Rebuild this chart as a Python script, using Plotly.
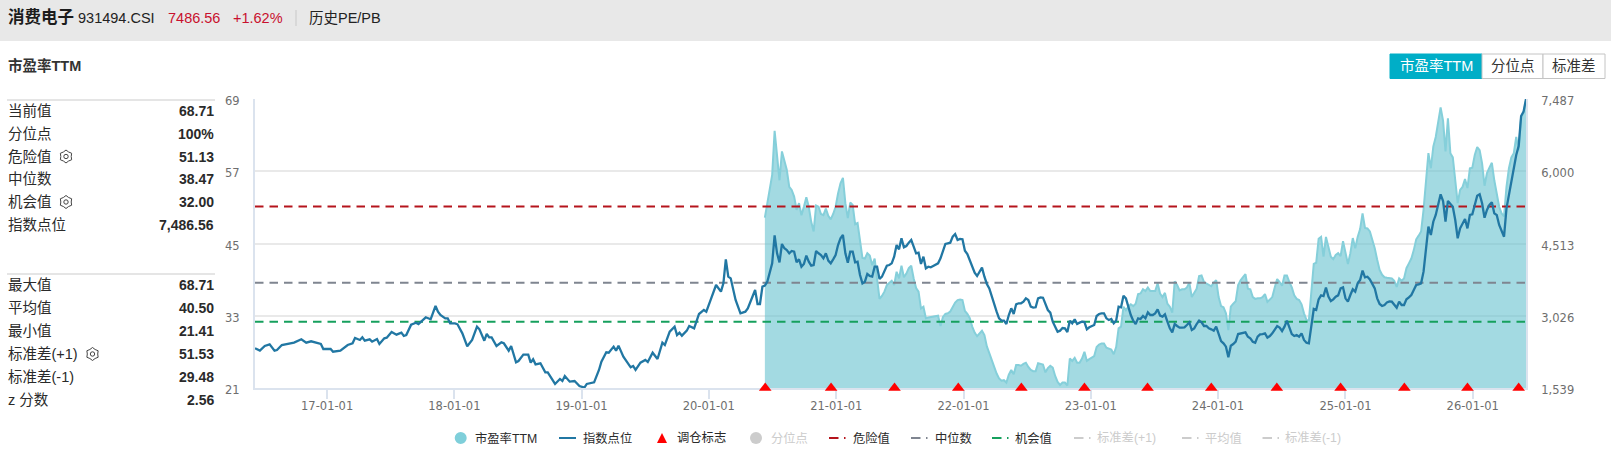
import math
import pandas as pd
import plotly.graph_objects as go

W, H = 1611, 462

# weekly calendar of the series
FIRST_WEEK = pd.Timestamp("2016-06-08")

index_early_weeks = [0,2,4,6,8,9,11,13,16,19,21,23,27,28,31,32,35,38,40,41,43,44,45,47,48,50,51,53,54,56,58,60,61,62,63,64,66,67,70,72,73,74,75,76,78,79,80,82,83,85,87,89,91,92,94,95,96,97,99,101,102,104,105,107,108,110,112,113,114,115,117,119,120,123,125,126,127,129,131,133,135,136,139,141,142,144,145,146,147,148,149,151,153,154,155,156,158,160,161,163,165,167,168,170,172,173,174,175,177,178,180,182,184,185,187,189,191,192,193,194,195,197,199,201,202,203,205,206,207,208,209]
index_early_values = [2356,2308,2404,2438,2308,2321,2424,2445,2472,2541,2472,2500,2445,2342,2342,2287,2308,2424,2459,2568,2527,2582,2513,2541,2493,2548,2445,2561,2575,2692,2637,2678,2610,2630,2733,2843,2884,2856,2994,2953,3090,3227,3110,3042,2973,2973,2870,2870,2850,2664,2397,2527,2802,2747,2513,2651,2582,2582,2404,2479,2459,2308,2404,2068,2095,2226,2226,2061,2129,2026,2047,1862,1862,1622,1725,1683,1786,1670,1683,1580,1546,1622,1656,1910,2081,2273,2266,2335,2390,2308,2411,2184,2047,1965,1992,1910,2061,2116,2074,2266,2136,2472,2424,2699,2802,2630,2678,2616,2719,2815,2767,3062,3145,3110,3385,3659,3522,3693,4187,3831,3796,3350,3076,3110,3179,3316,3556,3268,3268,3625,3645]

# index level, one value a week from week 210 on
index_recent_values = [
    3727,3933,4105,4681,4311,4125,4503,4414,4379,4311,4359,4345,4125,4187,4036,4091,4263,4139,4057,4070,
    4359,4311,4276,4208,4311,4160,4105,4187,4276,4482,4619,4688,4311,4118,4345,4345,4125,4139,3865,3693,
    3727,3885,3844,3830,4036,4036,3782,3830,3933,4057,4070,4105,4242,4482,4393,4619,4434,4461,4530,4585,
    4448,4311,4324,4091,4242,4002,4036,4023,4050,4084,4105,4208,4379,4503,4516,4530,4654,4708,4585,4606,
    4599,4365,4297,4173,4023,3913,3844,3920,4016,3830,3680,3590,3419,3261,3110,2973,2925,2925,2856,3041,
    3179,3062,3261,3282,3282,3316,3385,3350,3213,3192,3199,3385,3405,3398,3281,3144,3089,2904,2801,2698,
    2719,2774,2767,2691,2925,2870,2952,2856,2884,2904,2897,2746,2788,2815,2836,3021,3062,3076,3076,2973,
    2938,2959,2870,2925,3213,3199,3439,3384,3213,3041,2925,2856,2973,2959,3021,2973,3096,3041,3041,3076,
    3158,3028,3007,3055,2904,2767,2685,2856,2815,2781,2781,2788,2836,2890,2733,2767,2856,2925,2890,2815,
    2815,2767,2746,2719,2801,2630,2506,2458,2390,2170,2410,2444,2492,2650,2664,2664,2685,2595,2561,2492,
    2472,2595,2643,2650,2664,2575,2609,2664,2746,2815,2781,2712,2801,2925,2788,2650,2609,2630,2595,2664,
    2527,2472,2458,2801,3165,3144,3364,3446,3432,3604,3419,3330,3364,3419,3446,3590,3611,3384,3316,3453,
    3570,3522,3693,3762,3954,3817,3830,3775,3693,3590,3384,3268,3227,3247,3302,3323,3316,3261,3192,3316,
    3247,3247,3364,3405,3453,3556,3659,3673,3693,3933,4448,4859,4688,4962,5100,5305,5525,5388,4962,5388,
    5340,5271,4997,4619,4825,4914,5017,4825,5100,5113,5340,5497,5525,5340,5044,5202,5305,5360,5134,5100,
    4894,4757,4653,5237,5511,5785,6128,6334,6519,7137,7226,7486.56]

# PE (TTM), one value a week from week 209 on
pe_first_week = 209
pe_values = [
    49.3,51.7,54.4,56.4,63.7,60.0,55.5,60.3,58.6,57.2,54.4,53.9,52.8,50.6,51.7,49.7,51.1,52.7,51.1,48.6,
    47.0,51.3,51.1,49.9,49.7,50.8,49.6,49.0,49.9,51.1,53.3,55.0,55.9,51.7,49.2,51.8,51.4,48.2,48.4,45.3,
    42.6,42.5,43.4,43.0,41.4,42.5,39.5,35.8,36.3,37.0,38.1,38.4,38.8,38.1,40.3,39.2,41.3,39.4,40.0,40.9,
    41.3,39.2,37.6,37.0,34.2,34.5,32.6,32.7,32.8,32.8,33.0,33.0,31.3,32.8,33.3,33.4,33.7,34.6,35.2,35.6,
    35.7,35.6,33.8,33.3,32.6,31.2,30.2,29.6,30.1,30.5,29.8,27.9,26.8,25.6,24.5,23.4,22.6,22.2,22.3,21.9,
    23.2,24.0,23.3,24.8,24.8,24.7,25.0,25.2,24.5,24.0,23.8,23.8,25.1,25.0,24.9,23.6,24.3,24.7,24.4,23.0,
    22.0,21.5,21.9,21.9,21.41,25.9,25.5,26.0,25.2,25.2,25.9,27.0,25.5,25.8,26.1,26.3,27.8,28.2,28.4,28.4,
    27.7,27.5,27.4,26.6,27.8,30.9,31.2,34.5,33.9,34.5,34.9,34.6,35.0,36.6,36.7,37.4,37.1,37.7,37.1,37.1,
    37.1,38.4,36.7,36.1,36.8,35.0,34.5,33.5,38.7,38.1,37.2,37.4,37.4,37.7,38.5,36.1,36.7,37.5,39.6,39.7,
    38.6,38.4,38.2,37.9,38.5,38.9,36.1,34.6,34.4,33.4,30.6,34.5,35.0,35.4,38.1,38.9,39.4,39.9,37.5,37.4,
    36.1,35.8,35.9,35.9,36.1,36.6,35.3,35.7,36.1,37.7,39.1,38.6,38.0,39.7,39.7,38.6,37.7,36.4,35.8,35.6,
    34.9,33.4,32.3,32.2,36.7,41.6,41.8,45.8,46.1,42.8,46.1,44.4,42.8,42.4,43.1,43.4,42.9,45.4,43.4,41.6,
    43.4,45.9,44.2,46.1,47.4,50.0,47.6,47.5,47.0,45.7,44.2,42.3,40.6,39.8,39.4,39.3,39.2,39.2,38.8,37.8,
    39.2,38.8,39.2,40.9,41.7,42.5,43.9,45.7,46.3,47.0,50.6,55.5,60.0,57.5,61.1,62.7,65.5,67.6,65.4,60.3,
    65.8,60.0,59.3,55.5,51.7,53.9,54.4,55.7,54.2,57.5,57.6,59.7,61.0,60.5,58.3,54.6,56.7,57.6,58.4,55.5,
    52.9,51.1,50.0,49.5,54.4,57.5,59.3,60.0,62.7,60.5,66.0,66.7,68.71]

rebalance_dates = ["2020-06-11","2020-12-17","2021-06-17","2021-12-17","2022-06-16","2022-12-14",
                   "2023-06-13","2023-12-13","2024-06-18","2024-12-18","2025-06-19","2025-12-17","2026-05-13"]

danger_level = 51.13
median_level = 38.47
chance_level = 32.00

pe_ticks = [21, 33, 45, 57, 69]
index_ticks = [1539, 3026, 4513, 6000, 7487]

stats_top_labels = ["当前值", "分位点", "危险值", "中位数", "机会值", "指数点位"]
stats_top_values = ["68.71", "100%", "51.13", "38.47", "32.00", "7,486.56"]
stats_bottom_labels = ["最大值", "平均值", "最小值", "标准差(+1)", "标准差(-1)", "z 分数"]
stats_bottom_values = ["68.71", "40.50", "21.41", "51.53", "29.48", "2.56"]

LATIN_CJK = "Liberation Sans, Noto Sans CJK SC"
TICK_FONT = dict(family="DejaVu Sans", size=11.5, color="#6e6e6e")
AXIS_COLOR = "#dbe3ee"
GRID_COLOR = "#e9e9e9"
RED = "#b5141c"
GREY = "#7f8590"
GREEN = "#16a05d"
INK = "#2a2a2a"


def week_date(week):
    return FIRST_WEEK + pd.Timedelta(days=7 * week)


index_weeks = index_early_weeks + list(range(210, 210 + len(index_recent_values)))
index_values = index_early_values + index_recent_values
index_dates = [week_date(w) for w in index_weeks]
pe_dates = [week_date(pe_first_week + i) for i in range(len(pe_values))]
x_start, x_end = week_date(0), week_date(521)

fig = go.Figure()
fig.add_trace(go.Scatter(x=pe_dates, y=pe_values, mode="lines", fill="tozeroy",
                         fillcolor="rgba(98,192,205,0.59)",
                         line=dict(color="rgb(133,207,218)", width=2),
                         name="市盈率TTM", hoverinfo="skip"))
fig.add_trace(go.Scatter(x=index_dates, y=index_values, mode="lines", yaxis="y2",
                         line=dict(color="#2177a3", width=2.3), name="指数点位"))
for level, colour, label in [(danger_level, RED, "危险值"),
                             (median_level, GREY, "中位数"),
                             (chance_level, GREEN, "机会值")]:
    fig.add_trace(go.Scatter(x=[x_start, x_end], y=[level, level], mode="lines",
                             line=dict(color=colour, width=2, dash="8.5px,6px"), name=label))
fig.add_trace(go.Scatter(x=rebalance_dates, y=[21] * len(rebalance_dates), mode="markers",
                         marker=dict(symbol="triangle-up", size=11, color="#ff0000"),
                         cliponaxis=False, name="调仓标志"))

shapes, notes = [], []


def px(x):
    return x / W


def py(y):
    return 1 - y / H


def rect(x0, y0, x1, y1, fill, line=None, width=1):
    shapes.append(dict(type="rect", xref="paper", yref="paper", layer="below",
                       x0=px(x0), x1=px(x1), y0=py(y0), y1=py(y1), fillcolor=fill,
                       line=dict(color=line or fill, width=width if line else 0)))


def hline(x0, x1, y, colour, width=1):
    shapes.append(dict(type="line", xref="paper", yref="paper", x0=px(x0), x1=px(x1),
                       y0=py(y), y1=py(y), line=dict(color=colour, width=width)))


def text(x, y, s, size=14.5, colour=INK, bold=False, anchor="left"):
    notes.append(dict(xref="paper", yref="paper", x=px(x), y=py(y), text=f"<b>{s}</b>" if bold else s,
                      showarrow=False, xanchor=anchor, yanchor="middle", borderpad=0,
                      font=dict(family=LATIN_CJK, size=size, color=colour)))


def polygon(points, fill="rgba(0,0,0,0)", line=None, width=1):
    path = "M" + "L".join(f"{px(x):.5f},{py(y):.5f}" for x, y in points) + "Z"
    shapes.append(dict(type="path", xref="paper", yref="paper", path=path, fillcolor=fill,
                       line=dict(color=line or fill, width=width if line else 0)))


def circle(cx, cy, r, fill="rgba(0,0,0,0)", line=None, width=1):
    shapes.append(dict(type="circle", xref="paper", yref="paper", x0=px(cx - r), x1=px(cx + r),
                       y0=py(cy - r), y1=py(cy + r), fillcolor=fill,
                       line=dict(color=line or fill, width=width if line else 0)))


def gear(cx, cy):
    pts = []
    for k in range(12):
        radius = 6.5 if k % 2 == 0 else 5.2
        ang = math.pi / 6 * k + math.pi / 2
        pts.append((cx + radius * math.cos(ang), cy + radius * math.sin(ang)))
    polygon(pts, line="#444444")
    circle(cx, cy, 2.2, line="#444444")


# header band
rect(0, 0, W, 41, "#e8e8e8")
text(6.5, 17, "消费电子", size=16.5, colour="#1c1c1c", bold=True)
text(77, 18, "931494.CSI", colour="#222222")
text(167, 18, "7486.56", colour="#c8102e")
text(232, 18, "+1.62%", colour="#c8102e")
shapes.append(dict(type="line", xref="paper", yref="paper", x0=px(296), x1=px(296),
                   y0=py(10), y1=py(26), line=dict(color="#c8c8c8", width=1)))
text(308, 18, "历史PE/PB", colour="#222222")

# sub-title and metric switch
text(6.5, 65, "市盈率TTM", colour="#333333", bold=True)
rect(1390, 54, 1482, 78.5, "#00aec7", "#00aec7")
rect(1482, 54, 1543, 78.5, "#ffffff", "#c4c4c4")
rect(1543, 54, 1605, 78.5, "#ffffff", "#c4c4c4")
text(1436, 66, "市盈率TTM", colour="#ffffff", anchor="center")
text(1512.5, 66, "分位点", colour="#333333", anchor="center")
text(1574, 66, "标准差", colour="#333333", anchor="center")

# statistics panel
hline(7, 215, 100, "#dddddd", 1.5)
hline(7, 215, 274, "#dddddd", 1.5)
top_rows = [111.5, 133.5, 156.5, 179, 202, 225]
bottom_rows = [285, 308, 331, 354, 377, 400]
for y, lab, val in zip(top_rows, stats_top_labels, stats_top_values):
    text(6.5, y, lab)
    text(215, y, val, size=14, bold=True, anchor="right")
for y, lab, val in zip(bottom_rows, stats_bottom_labels, stats_bottom_values):
    text(6.5, y, lab)
    text(215, y, val, size=14, bold=True, anchor="right")
gear(66, 156.5)
gear(66, 202)
gear(92.5, 354)

# legend row
LEGEND_Y = 438
DIM = "#cccccc"
circle(460.7, LEGEND_Y, 6, "#7fcfda")
text(474, LEGEND_Y, "市盈率TTM", size=12.3)
hline(559, 576, LEGEND_Y, "#2177a3", 2)
text(581.5, LEGEND_Y, "指数点位", size=12.3)
polygon([(657, LEGEND_Y + 5), (667, LEGEND_Y + 5), (662, LEGEND_Y - 5)], "#ff0000")
text(675.5, LEGEND_Y, "调仓标志", size=12.3)
circle(756, LEGEND_Y, 6, DIM)
text(770, LEGEND_Y, "分位点", size=12.3, colour=DIM)
for dash0, label, colour, tcol, tx in [(829, "危险值", RED, INK, 851.5),
                                       (911, "中位数", GREY, INK, 933.5),
                                       (992, "机会值", GREEN, INK, 1014),
                                       (1074, "标准差(+1)", DIM, DIM, 1095.5),
                                       (1182, "平均值", DIM, DIM, 1204),
                                       (1262.5, "标准差(-1)", DIM, DIM, 1284)]:
    hline(dash0, dash0 + 9.5, LEGEND_Y, colour, 2)
    hline(dash0 + 15, dash0 + 16.5, LEGEND_Y, colour, 2)
    text(tx, LEGEND_Y, label, size=12.3, colour=tcol)

fig.update_layout(
    width=W, height=H, autosize=False,
    margin=dict(l=0, r=0, t=0, b=0, pad=0, autoexpand=False),
    paper_bgcolor="white", plot_bgcolor="white",
    showlegend=False, shapes=shapes, annotations=notes,
    hovermode=False,
    xaxis=dict(domain=[px(255), px(1526)], type="date", range=[x_start, x_end],
               tick0="2017-01-01", dtick="M12", tickformat="%y-%m-%d", automargin=False,
               showgrid=False, zeroline=False, showline=True, linecolor=AXIS_COLOR, linewidth=2,
               layer="below traces", ticklabelstandoff=-3,
               ticks="outside", ticklen=9, tickwidth=2, tickcolor=AXIS_COLOR, tickfont=TICK_FONT),
    yaxis=dict(domain=[py(388), py(99)], range=[21, 69], tickvals=pe_ticks, automargin=False,
               showgrid=True, gridcolor=GRID_COLOR, gridwidth=2, zeroline=False,
               showline=True, linecolor=AXIS_COLOR, linewidth=2, ticks="", tickfont=TICK_FONT,
               layer="below traces", ticklabelstandoff=11, ticklabelshift=2),
    yaxis2=dict(overlaying="y", side="right", anchor="x", range=[1539, 7487], tickvals=index_ticks,
                tickformat=",", showgrid=False, zeroline=False, automargin=False,
                showline=True, linecolor=AXIS_COLOR, linewidth=2, ticks="", tickfont=TICK_FONT,
                layer="below traces", ticklabelstandoff=11, ticklabelshift=2),
)

fig.write_html("out.html")
